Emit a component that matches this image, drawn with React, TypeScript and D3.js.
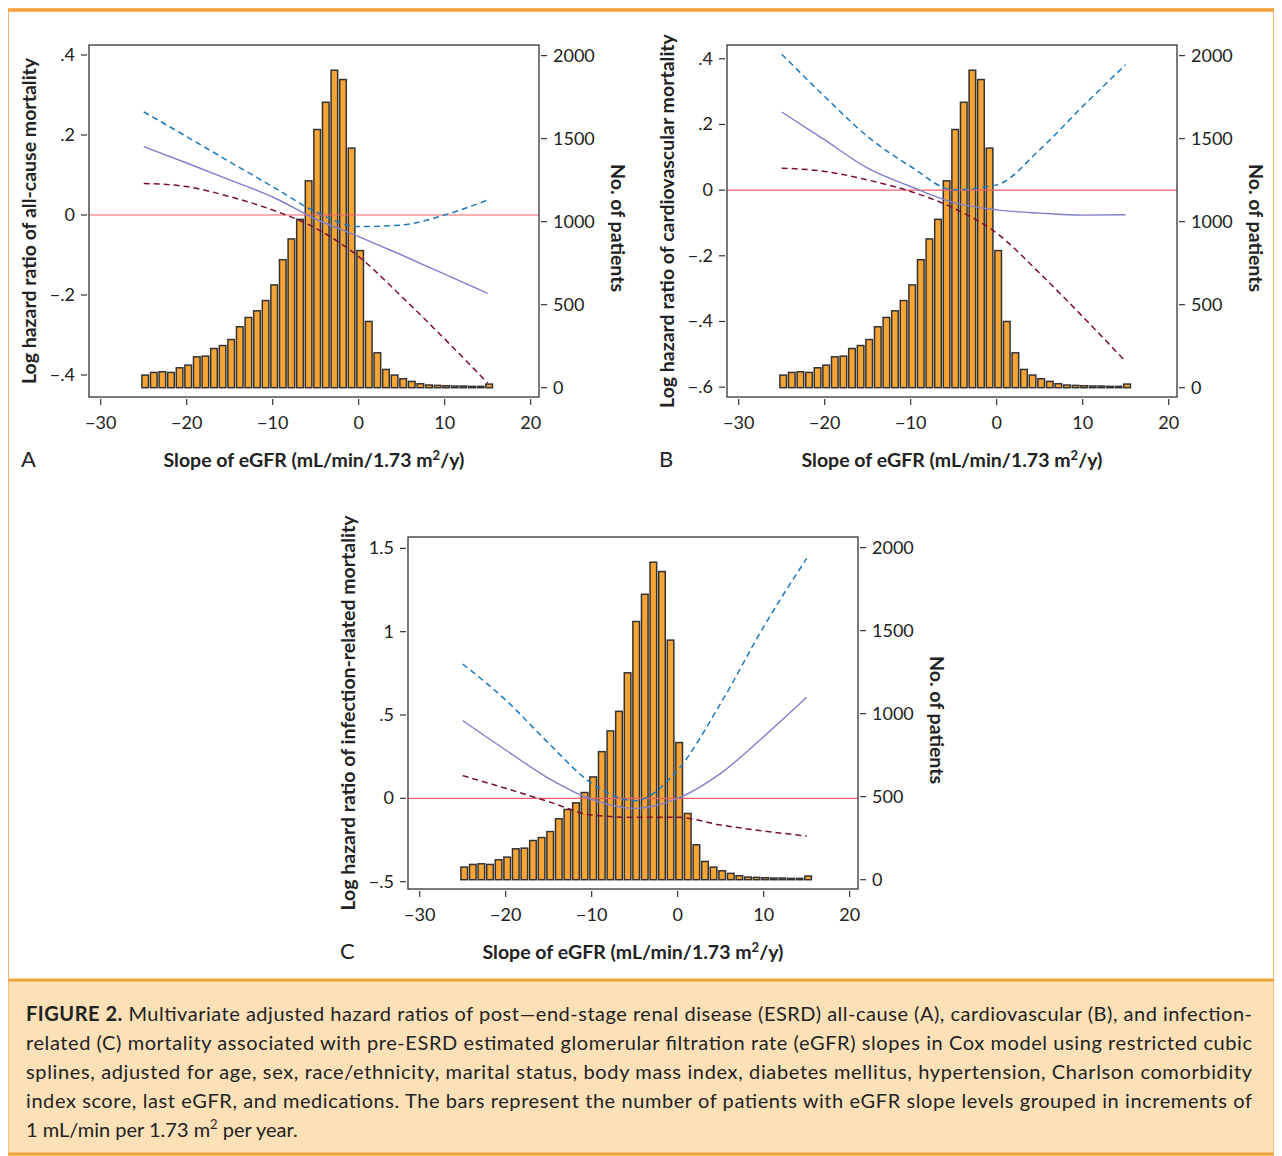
import * as d3 from 'd3'

const slopes = d3.range(-25, 16)
const patients = [76, 92, 96, 92, 120, 136, 186, 190, 236, 254, 290, 367, 423, 463, 525, 619, 771, 896, 1014, 1246, 1555, 1719, 1912, 1856, 1443, 826, 399, 210, 110, 76, 54, 38, 24, 16, 14, 12, 10, 10, 8, 8, 22]

const knots = [-25, -20, -15, -10, -5, 0, 5, 10, 15]
const allCauseHr = [0.171, 0.13, 0.088, 0.045, -0.01, -0.054, -0.1, -0.148, -0.196]
const allCauseUpper = [0.258, 0.196, 0.133, 0.071, 0.008, -0.029, -0.025, 0, 0.0375]
const allCauseLower = [0.079, 0.071, 0.046, 0.0125, -0.033, -0.104, -0.204, -0.31, -0.42]
const cvHr = [0.238, 0.153, 0.067, 0.011, -0.038, -0.06, -0.07, -0.076, -0.075]
const cvUpper = [0.414, 0.285, 0.163, 0.072, 0.001, 0.016, 0.123, 0.255, 0.382]
const cvLower = [0.067, 0.057, 0.031, -0.004, -0.055, -0.131, -0.253, -0.385, -0.522]
const infHr = [0.466, 0.29, 0.12, -0.006, -0.06, 0, 0.15, 0.37, 0.606]
const infUpper = [0.806, 0.59, 0.33, 0.09, -0.014, 0.17, 0.57, 1.03, 1.44]
const infLower = [0.136, 0.06, -0.02, -0.1, -0.114, -0.114, -0.16, -0.196, -0.226]

const xTicks = [-30, -20, -10, 0, 10, 20]
const countTicks = [0, 500, 1000, 1500, 2000]
const FONT = 'Lato, "Open Sans", sans-serif'

const fmtX = (v: number) => (v < 0 ? '\u2212' + Math.abs(v) : String(v))
const fmtY = (v: number) => {
  if (v === 0) return '0'
  const s = String(Math.abs(v)).replace(/^0/, '')
  return (v < 0 ? '\u2212' : '') + s
}

interface PanelProps {
  x0: number
  y0: number
  letter: string
  yLabel: string
  yDomain: [number, number]
  yTicks: number[]
  hr: number[]
  upper: number[]
  lower: number[]
}

function Panel({ x0, y0, letter, yLabel, yDomain, yTicks, hr, upper, lower }: PanelProps) {
  const W = 450
  const H = 352
  const x = d3.scaleLinear().domain([-31.36, 20.97]).range([0, W])
  const y = d3.scaleLinear().domain(yDomain).range([H, 0])
  const yc = d3.scaleLinear().domain([-56, 2064]).range([H, 0])
  const bw = 6.6
  const line = (vals: number[]) =>
    d3.line<number>().x((_, i) => x(knots[i])).y(d => y(d)).curve(d3.curveMonotoneX)(vals) ?? ''

  return (
    <g transform={`translate(${x0},${y0})`} fontFamily={FONT}>
      {slopes.map((s, i) => (
        <rect key={s} x={x(s) - bw / 2 + 1.5} y={yc(patients[i])} width={bw} height={yc(0) - yc(patients[i])}
          fill="#F6A436" stroke="#333" strokeWidth={1.5} />
      ))}
      <line x1={0} x2={W} y1={y(0)} y2={y(0)} stroke="#F0606A" strokeWidth={1.2} />
      <path d={line(upper)} fill="none" stroke="#1F78C0" strokeWidth={1.5} strokeDasharray="6,4" />
      <path d={line(lower)} fill="none" stroke="#7A1030" strokeWidth={1.5} strokeDasharray="6,4" />
      <path d={line(hr)} fill="none" stroke="#7F7FCB" strokeWidth={1.4} />
      <rect x={0} y={0} width={W} height={H} fill="none" stroke="#333" strokeWidth={1.3} />
      {xTicks.map(t => (
        <g key={t}>
          <line x1={x(t)} x2={x(t)} y1={H + 2} y2={H + 8} stroke="#333" strokeWidth={1.2} />
          <text x={x(t)} y={H + 32} textAnchor="middle" fontSize={18} fill="#222">{fmtX(t)}</text>
        </g>
      ))}
      {yTicks.map(t => (
        <g key={t}>
          <line x1={-2} x2={-8} y1={y(t)} y2={y(t)} stroke="#333" strokeWidth={1.2} />
          <text x={-14} y={y(t) + 6} textAnchor="end" fontSize={18} fill="#222">{fmtY(t)}</text>
        </g>
      ))}
      {countTicks.map(t => (
        <g key={t}>
          <line x1={W + 2} x2={W + 8} y1={yc(t)} y2={yc(t)} stroke="#333" strokeWidth={1.2} />
          <text x={W + 14} y={yc(t) + 6} fontSize={18} fill="#222">{t}</text>
        </g>
      ))}
      <text transform={`translate(${-53},${H / 2}) rotate(-90)`} textAnchor="middle" fontSize={19.5} fontWeight={700} fill="#222">{yLabel}</text>
      <text transform={`translate(${W + 72},${H / 2 + 7}) rotate(90)`} textAnchor="middle" fontSize={19.5} fontWeight={700} fill="#222">No. of patients</text>
      <text x={-68} y={H + 70} fontSize={22} fill="#222">{letter}</text>
      <text x={W / 2} y={H + 70} textAnchor="middle" fontSize={19.5} fontWeight={700} fill="#222">
        Slope of eGFR (mL/min/1.73 m<tspan dy={-7} fontSize={13}>2</tspan><tspan dy={7}>/y)</tspan>
      </text>
    </g>
  )
}

const captionLines = [
  'Multivariate adjusted hazard ratios of post\u2014end-stage renal disease (ESRD) all-cause (A), cardiovascular (B), and infection-',
  'related (C) mortality associated with pre-ESRD estimated glomerular filtration rate (eGFR) slopes in Cox model using restricted cubic',
  'splines, adjusted for age, sex, race/ethnicity, marital status, body mass index, diabetes mellitus, hypertension, Charlson comorbidity',
  'index score, last eGFR, and medications. The bars represent the number of patients with eGFR slope levels grouped in increments of',
]

export default function App() {
  return (
    <svg width={1266} height={1148} style={{ display: 'block' }}>
      <rect x={-3} y={0} width={1272} height={1148} fill="#FCE0B8" />
      <rect x={-1} y={2} width={1268} height={970} fill="#fff" stroke="#F2A23C" strokeWidth={3} />
      <rect x={-1} y={2} width={1268} height={1144} fill="none" stroke="#F2A23C" strokeWidth={3} />
      <Panel x0={81} y0={37} letter="A" yLabel="Log hazard ratio of all-cause mortality"
        yDomain={[-0.455, 0.425]} yTicks={[-0.4, -0.2, 0, 0.2, 0.4]}
        hr={allCauseHr} upper={allCauseUpper} lower={allCauseLower} />
      <Panel x0={719} y0={37} letter="B" yLabel="Log hazard ratio of cardiovascular mortality"
        yDomain={[-0.63, 0.442]} yTicks={[-0.6, -0.4, -0.2, 0, 0.2, 0.4]}
        hr={cvHr} upper={cvUpper} lower={cvLower} />
      <Panel x0={400} y0={529} letter="C" yLabel="Log hazard ratio of infection-related mortality"
        yDomain={[-0.544, 1.568]} yTicks={[-0.5, 0, 0.5, 1, 1.5]}
        hr={infHr} upper={infUpper} lower={infLower} />
      <g fontFamily={FONT} fontSize={20} fill="#222">
        <text x={18} y={1013} textLength={1226} lengthAdjust="spacing"><tspan fontWeight={700}>FIGURE 2.</tspan> {captionLines[0]}</text>
        {captionLines.slice(1).map((l, i) => (
          <text key={i} x={18} y={1042 + i * 29} textLength={1226} lengthAdjust="spacing">{l}</text>
        ))}
        <text x={18} y={1129}>1 mL/min per 1.73 m<tspan dy={-8} fontSize={13}>2</tspan><tspan dy={8}> per year.</tspan></text>
      </g>
    </svg>
  )
}
